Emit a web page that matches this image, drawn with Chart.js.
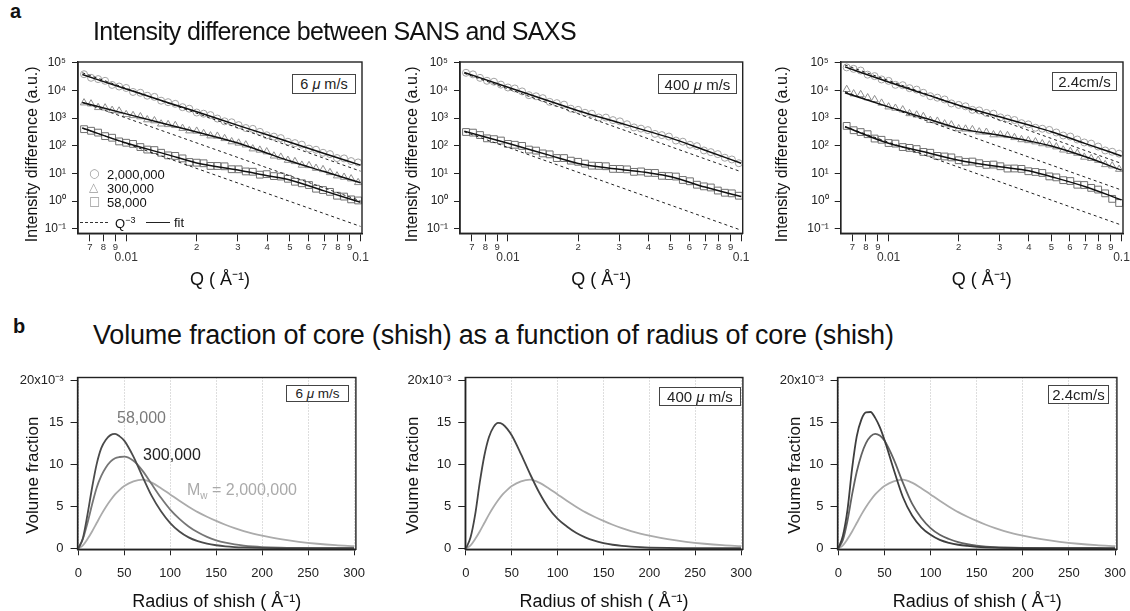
<!DOCTYPE html>
<html>
<head>
<meta charset="utf-8">
<script src="https://cdn.jsdelivr.net/npm/chart.js@4.4.1/dist/chart.umd.min.js"></script>
<style>
  html, body { margin: 0; padding: 0; background: #fff; overflow: hidden; }
  #fig { position: relative; width: 1130px; height: 611px; overflow: hidden; background: #fff;
         font-family: "Liberation Sans", Arial, sans-serif; color: #111; }
  #fig canvas { position: absolute; }
  .lbl { position: absolute; white-space: nowrap; line-height: 1; z-index: 2; }
  .speed { position: absolute; z-index: 2; border: 1px solid #444; background: #fff; box-sizing: border-box;
           display: flex; align-items: center; justify-content: center; white-space: nowrap; color: #222; }
  .sym { font-family: "DejaVu Sans", sans-serif; color: #999; }
  .dash { position: absolute; z-index: 2; height: 0; }
</style>
</head>
<body>
<div id="fig">
  <div class="lbl" style="left:10px;top:1px;font-size:20px;font-weight:bold">a</div>
  <div class="lbl" style="left:93px;top:19px;font-size:25px;letter-spacing:-0.6px">Intensity difference between SANS and SAXS</div>
  <div class="lbl" style="left:13px;top:316px;font-size:20px;font-weight:bold">b</div>
  <div class="lbl" style="left:93px;top:322px;font-size:27px;letter-spacing:-0.2px">Volume fraction of core (shish) as a function of radius of core (shish)</div>

  <div class="speed" style="left:292px;top:74px;width:64px;height:20px;font-size:14.5px">6&nbsp;<i>μ</i>&nbsp;m/s</div>
  <div class="speed" style="left:658px;top:74px;width:79px;height:20px;font-size:15px">400&nbsp;<i>μ</i>&nbsp;m/s</div>
  <div class="speed" style="left:1052px;top:72px;width:65px;height:19px;font-size:15px">2.4cm/s</div>
  <div class="speed" style="left:286px;top:385px;width:63px;height:17px;font-size:13.5px">6&nbsp;<i>μ</i>&nbsp;m/s</div>
  <div class="speed" style="left:659px;top:387px;width:82px;height:19px;font-size:15px">400&nbsp;<i>μ</i>&nbsp;m/s</div>
  <div class="speed" style="left:1048px;top:385px;width:61px;height:19px;font-size:15px">2.4cm/s</div>

  <div class="lbl sym" style="left:89px;top:167px;font-size:12px">○</div>
  <div class="lbl" style="left:107px;top:168px;font-size:13px">2,000,000</div>
  <div class="lbl sym" style="left:89px;top:181px;font-size:12px">△</div>
  <div class="lbl" style="left:107px;top:182px;font-size:13px">300,000</div>
  <div class="lbl sym" style="left:89px;top:195px;font-size:12px">□</div>
  <div class="lbl" style="left:107px;top:196px;font-size:13px">58,000</div>
  <div class="dash" style="left:80px;top:222px;width:28px;border-top:1px dashed #333"></div>
  <div class="lbl" style="left:115px;top:216px;font-size:13px">Q<sup style="font-size:9px">−3</sup></div>
  <div class="dash" style="left:146px;top:222px;width:24px;border-top:1.5px solid #222"></div>
  <div class="lbl" style="left:174px;top:216px;font-size:13px">fit</div>

  <div class="lbl" style="left:117px;top:410px;font-size:16px;color:#7a7a7a">58,000</div>
  <div class="lbl" style="left:143px;top:447px;font-size:16px;color:#222">300,000</div>
  <div class="lbl" style="left:187px;top:482px;font-size:16px;color:#aaa">M<sub style="font-size:10px">w</sub> = 2,000,000</div>
</div>
<script>
// ---- panel a: intensity difference, Q in 1/Å ----
const qData = [0.00661, 0.00708, 0.00759, 0.00813, 0.00871, 0.00933, 0.0100, 0.0107, 0.0115, 0.0123,
    0.0132, 0.0141, 0.0151, 0.0162, 0.0174, 0.0186, 0.0200, 0.0214, 0.0229, 0.0245,
    0.0263, 0.0282, 0.0302, 0.0324, 0.0347, 0.0372, 0.0398, 0.0427, 0.0457, 0.0490,
    0.0525, 0.0562, 0.0603, 0.0646, 0.0692, 0.0741, 0.0794, 0.0851, 0.0912, 0.0977];

// 6 um/s
const a1Circles = [39000, 29000, 26000, 22500, 16000, 14000, 12400, 8900, 8300, 6500,
    5900, 4300, 3800, 3300, 2500, 2200, 1600, 1450, 1290, 970,
    770, 710, 560, 440, 410, 320, 240, 215, 190, 140,
    125, 110, 79, 72, 56, 50, 36, 35, 28, 25];
const a1Triangles = [3600, 3300, 2440, 2360, 1930, 1820, 1360, 1250, 1130, 880,
    810, 620, 590, 545, 430, 350, 340, 280, 230, 224,
    184, 141, 126, 108, 78, 70, 61, 43, 39, 30,
    27, 20, 19.3, 15.4, 13.8, 10.8, 8.2, 7.3, 6.4, 4.7];
const a1Squares = [400, 350, 300, 224, 196, 144, 129, 117, 90, 73,
    70, 56, 45, 43, 35, 26, 24.5, 23.3, 18.7, 18.6,
    18.1, 14.2, 14.1, 11.8, 11.5, 9.0, 9.4, 8.0, 7.7, 6.4,
    5.0, 4.4, 3.8, 2.8, 2.5, 2.15, 1.56, 1.45, 1.15, 1.05];
// 400 um/s
const a2Circles = [44000, 38500, 28800, 22600, 20900, 16400, 12900, 11900, 9300, 6800,
    6200, 5300, 3890, 3500, 3090, 2210, 2000, 1570, 1450, 1060,
    1050, 850, 766, 603, 462, 418, 369, 270, 244, 216,
    155, 141, 109, 97, 68, 59, 50, 37, 32, 23.4];
const a2Squares = [316, 300, 245, 186, 174, 155, 117, 109, 99, 73,
    67, 53, 49, 36, 36, 29, 26.3, 22.6, 19.1, 18.8,
    18.2, 14.6, 14.5, 14.0, 11.4, 11.8, 10.5, 10.4, 8.2, 8.0,
    7.7, 5.8, 5.2, 3.9, 3.4, 3.1, 2.4, 2.0, 1.9, 1.56];
// 2.4 cm/s
const a3Circles = [69000, 61000, 53000, 37600, 33300, 25200, 22400, 16100, 15600, 12200,
    10800, 8300, 6250, 5520, 4760, 3420, 3020, 2690, 2000, 1910,
    1550, 1450, 1070, 968, 857, 659, 597, 449, 415, 376,
    303, 236, 216, 169, 132, 120, 94, 68, 61, 52];
const a3Triangles = [11000, 7640, 7190, 5500, 4710, 3520, 2570, 2300, 2010, 1470,
    1310, 1150, 836, 783, 625, 573, 417, 406, 386, 320,
    311, 252, 251, 236, 200, 168, 155, 140, 120, 108,
    92, 71, 63, 54, 39, 35, 30, 21, 18.8, 14.2];
const a3Squares = [525, 366, 314, 263, 183, 165, 126, 120, 90, 84,
    76, 60, 56, 43, 41, 38, 30, 26.3, 26.9, 23.4,
    20.4, 20.9, 18.2, 15.0, 15.1, 14.6, 12.0, 11.3, 10.4, 7.8,
    7.2, 5.7, 5.3, 3.9, 3.8, 3.0, 2.6, 1.9, 1.2, 0.85];

// fit curves
const qFit = [0.0065, 0.01, 0.015, 0.02, 0.03, 0.04, 0.05, 0.07, 0.1];
const a1CirclesFit = [38000, 11400, 3700, 1700, 550, 250, 135, 53, 20];
const a1TrianglesFit = [3700, 1430, 590, 316, 126, 54, 28, 11.7, 4.6];
const a1SquaresFit = [440, 126, 48, 24, 13.3, 8.3, 5.8, 2.34, 0.9];
const a2CirclesFit = [45000, 13200, 4180, 1860, 680, 333, 190, 69, 23.4];
const a2SquaresFit = [339, 123, 46, 23, 14.1, 10.5, 7.6, 3.2, 1.45];
const a3CirclesFit = [72000, 20400, 6560, 2950, 1120, 562, 324, 120, 43];
const a3TrianglesFit = [8300, 2570, 895, 427, 240, 150, 98, 40, 13.2];
const a3SquaresFit = [490, 123, 54, 30, 17.4, 12.6, 7.6, 3.3, 1.10];

// Q^-3 guide lines (end points)
const qPow = [0.0065, 0.1];
const a1CirclesPow = [44000, 12.1];
const a1TrianglesPow = [3700, 1.02];
const a1SquaresPow = [440, 0.121];
const a2CirclesPow = [42000, 11.5];
const a2SquaresPow = [320, 0.088];
const a3CirclesPow = [84000, 23];
const a3TrianglesPow = [9100, 2.5];
const a3SquaresPow = [490, 0.135];

const qTicks = [0.007, 0.008, 0.009, 0.01, 0.02, 0.03, 0.04, 0.05, 0.06, 0.07, 0.08, 0.09, 0.1];
const qTickLabels = ['7', '8', '9', '0.01', '2', '3', '4', '5', '6', '7', '8', '9', '0.1'];
const qTickMajor = [false, false, false, true, false, false, false, false, false, false, false, false, true];
const iTicks = [0.1, 1, 10, 100, 1000, 10000, 100000];
const iTickLabels = ['10⁻¹', '10⁰', '10¹', '10²', '10³', '10⁴', '10⁵'];

// ---- panel b: volume fraction (units of 1e-3) vs radius of shish ----
const radius = [0, 5, 10, 15, 20, 25, 30, 35, 40, 45, 50, 60, 70, 80, 90, 100,
    110, 120, 130, 140, 150, 160, 170, 180, 190, 200, 220, 240, 260, 280, 300];
const vf6um58k = [0, 1.2, 4.0, 7.2, 10.0, 11.9, 12.9, 13.45, 13.6, 13.3, 12.8, 10.9, 8.5, 6.2, 4.4, 3.0,
    2.0, 1.3, 0.85, 0.55, 0.36, 0.23, 0.15, 0.10, 0.07, 0.05, 0.025, 0.013, 0.007, 0.004, 0.002];
const vf6um300k = [0, 1.1, 3.0, 5.2, 7.2, 8.6, 9.6, 10.3, 10.7, 10.85, 10.9, 10.4, 9.2, 7.6, 6.0, 4.6,
    3.5, 2.6, 1.9, 1.35, 0.95, 0.66, 0.46, 0.32, 0.22, 0.15, 0.07, 0.035, 0.017, 0.009, 0.005];
const vf2M = [0, 0.35, 1.1, 2.0, 3.0, 4.0, 4.9, 5.7, 6.4, 6.95, 7.4, 7.95, 8.15, 7.8, 7.15, 6.4,
    5.65, 4.95, 4.3, 3.75, 3.25, 2.8, 2.4, 2.05, 1.75, 1.5, 1.08, 0.77, 0.54, 0.37, 0.25];
const vf400um58k = [0, 1.3, 4.0, 7.8, 11.0, 13.2, 14.4, 14.9, 14.75, 14.2, 13.4, 11.2, 8.8, 6.6, 4.8, 3.5,
    2.6, 1.85, 1.3, 0.9, 0.62, 0.42, 0.28, 0.19, 0.13, 0.09, 0.04, 0.02, 0.01, 0.005, 0.003];
const vf24cm58k = [0, 1.5, 4.6, 9.5, 13.3, 15.3, 16.15, 16.2, 15.5, 14.4, 12.9, 9.4, 6.1, 3.9, 2.5, 1.6,
    1.0, 0.65, 0.42, 0.28, 0.18, 0.12, 0.08, 0.055, 0.04, 0.03, 0.015, 0.008, 0.004, 0.002, 0.001];
const vf24cm300k = [0, 1.0, 3.3, 6.4, 9.1, 11.1, 12.5, 13.3, 13.6, 13.4, 12.8, 10.6, 7.8, 5.3, 3.6, 2.4,
    1.6, 1.1, 0.72, 0.48, 0.32, 0.21, 0.14, 0.095, 0.065, 0.045, 0.02, 0.01, 0.005, 0.003, 0.002];

const rTicks = [0, 50, 100, 150, 200, 250, 300];
const rTickLabels = ['0', '50', '100', '150', '200', '250', '300'];
const vfTicks = [0, 5, 10, 15, 20];
const vfTickLabels = ['0', '5', '10', '15', '20x10⁻³'];

Chart.defaults.font.family = '"Liberation Sans", Arial, sans-serif';
Chart.defaults.color = '#222';
Chart.defaults.animation = false;
Chart.defaults.plugins.legend.display = false;
Chart.defaults.plugins.tooltip.enabled = false;

const frame_plugin = {
    id: 'frame',
    afterDatasetsDraw(chart) {
        const a = chart.chartArea, ctx = chart.ctx;
        ctx.save();
        ctx.strokeStyle = '#222';
        ctx.lineWidth = 1.4;
        ctx.strokeRect(a.left, a.top, a.right - a.left, a.bottom - a.top);
        ctx.restore();
    }
};

const fig = document.getElementById('fig');

function make_chart(rect, area, scales, datasets) {
    const c = document.createElement('canvas');
    c.width = rect.w;
    c.height = rect.h;
    c.style.left = rect.x + 'px';
    c.style.top = rect.y + 'px';
    fig.insertBefore(c, fig.firstChild);
    new Chart(c.getContext('2d'), {
        type: 'scatter',
        data: { datasets: datasets },
        options: {
            responsive: false, devicePixelRatio: 1,
            layout: { padding: { left: 0, bottom: 0, top: area.t - rect.y, right: rect.x + rect.w - area.r } },
            scales: scales
        },
        plugins: [frame_plugin]
    });
}

function pts(xs, ys) {
    return xs.map((x, i) => ({ x: x, y: ys[i] }));
}

function markers(ys, style, radius, color) {
    return {
        data: pts(qData, ys), showLine: false, pointStyle: style, pointRadius: radius,
        pointBorderWidth: 1, borderColor: color, backgroundColor: 'rgba(0,0,0,0)',
        pointBackgroundColor: 'rgba(0,0,0,0)', pointBorderColor: color, order: 2
    };
}

function fit_line(ys) {
    return { data: pts(qFit, ys), showLine: true, pointRadius: 0, borderColor: '#111',
        borderWidth: 1.5, cubicInterpolationMode: 'monotone', order: 1 };
}

function pow_line(ys) {
    return { data: pts(qPow, ys), showLine: true, pointRadius: 0, borderColor: '#222',
        borderWidth: 1, borderDash: [3, 3], order: 1 };
}

function intensity_scales(rect, area, title_x) {
    const W = area.l - rect.x, H = rect.y + rect.h - area.b;
    return {
        x: {
            type: 'logarithmic', min: 0.00623, max: 0.1015,
            afterBuildTicks: s => { s.ticks = qTicks.map((v, i) => ({ value: v, major: qTickMajor[i] })); },
            afterFit: s => { s.height = H; },
            grid: { drawOnChartArea: false, tickLength: 8, tickColor: '#222' },
            border: { color: '#222', width: 1.4 },
            ticks: {
                autoSkip: false, maxRotation: 0, padding: 0, color: '#333',
                font: c => (c.tick && c.tick.major) ? { size: 12, lineHeight: 0.92 } : { size: 9.5 },
                callback: (v, i) => qTickMajor[i] ? ['', qTickLabels[i]] : qTickLabels[i]
            },
            title: { display: true, text: 'Q ( Å⁻¹)', color: '#111', font: { size: 18 },
                padding: { top: 0, bottom: 4.2 } }
        },
        y: {
            type: 'logarithmic', min: 0.068, max: 108000,
            afterBuildTicks: s => { s.ticks = iTicks.map(v => ({ value: v })); },
            afterFit: s => { s.width = W; },
            grid: { drawOnChartArea: false, tickLength: 6, tickColor: '#222' },
            border: { color: '#222', width: 1.4 },
            ticks: { padding: 6, color: '#222', font: { size: 12 }, callback: (v, i) => iTickLabels[i] },
            // trailing spaces push the rotated title a little down, as in the original
            title: { display: true, text: 'Intensity difference (a.u.)\u00a0\u00a0\u00a0', color: '#111', font: { size: 16 },
                padding: { top: title_x - rect.x - 9.6, bottom: 0 } }
        }
    };
}

function fraction_scales(rect, area, title_x) {
    const W = area.l - rect.x, H = rect.y + rect.h - area.b;
    return {
        x: {
            type: 'linear', min: -0.8, max: 302,
            afterBuildTicks: s => { s.ticks = rTicks.map(v => ({ value: v })); },
            afterFit: s => { s.height = H; },
            grid: { color: '#bdbdbd', lineWidth: 1, tickLength: 6, tickColor: '#222' },
            border: { color: '#222', width: 1.4, dash: [1, 2] },
            ticks: { autoSkip: false, maxRotation: 0, padding: 10, color: '#222', font: { size: 13 },
                callback: (v, i) => rTickLabels[i] },
            title: { display: true, text: 'Radius of shish ( Å⁻¹)', color: '#111', font: { size: 18 },
                padding: { top: 0, bottom: 6.7 } }
        },
        y: {
            type: 'linear', min: -0.12, max: 20.3,
            afterBuildTicks: s => { s.ticks = vfTicks.map(v => ({ value: v })); },
            afterFit: s => { s.width = W; },
            grid: { drawOnChartArea: false, tickLength: 7, tickColor: '#222' },
            border: { color: '#222', width: 1.4 },
            ticks: { padding: 7, color: '#222', font: { size: 13 }, callback: (v, i) => vfTickLabels[i] },
            title: { display: true, text: 'Volume fraction\u00a0\u00a0\u00a0\u00a0\u00a0', color: '#111', font: { size: 17 },
                padding: { top: title_x - rect.x - 10.2, bottom: 0 } }
        }
    };
}

function vf_line(ys, color) {
    return { data: pts(radius, ys), showLine: true, pointRadius: 0, borderColor: color,
        borderWidth: 1.8, cubicInterpolationMode: 'monotone' };
}

// row a
let r, ar;
r = { x: 20, y: 40, w: 356, h: 255 }; ar = { l: 78, r: 362, t: 62, b: 233.3 };
make_chart(r, ar, intensity_scales(r, ar, 33), [
    fit_line(a1CirclesFit), fit_line(a1TrianglesFit), fit_line(a1SquaresFit),
    pow_line(a1CirclesPow), pow_line(a1TrianglesPow), pow_line(a1SquaresPow),
    markers(a1Circles, 'circle', 3.5, '#a3a3a3'),
    markers(a1Triangles, 'triangle', 4.2, '#8e8e8e'),
    markers(a1Squares, 'rect', 4.8, '#707070')
]);
r = { x: 400, y: 40, w: 357, h: 255 }; ar = { l: 460, r: 742.7, t: 62, b: 233.3 };
make_chart(r, ar, intensity_scales(r, ar, 413), [
    fit_line(a2CirclesFit), fit_line(a2SquaresFit),
    pow_line(a2CirclesPow), pow_line(a2SquaresPow),
    markers(a2Circles, 'circle', 3.5, '#a3a3a3'),
    markers(a2Squares, 'rect', 4.8, '#707070')
]);
r = { x: 770, y: 40, w: 367, h: 255 }; ar = { l: 840.7, r: 1123, t: 62, b: 233.3 };
make_chart(r, ar, intensity_scales(r, ar, 783), [
    fit_line(a3CirclesFit), fit_line(a3TrianglesFit), fit_line(a3SquaresFit),
    pow_line(a3CirclesPow), pow_line(a3TrianglesPow), pow_line(a3SquaresPow),
    markers(a3Circles, 'circle', 3.5, '#a3a3a3'),
    markers(a3Triangles, 'triangle', 4.2, '#8e8e8e'),
    markers(a3Squares, 'rect', 4.8, '#707070')
]);

// row b
r = { x: 20, y: 355, w: 355, h: 265 }; ar = { l: 77.55, r: 360.2, t: 377.5, b: 549.3 };
make_chart(r, ar, fraction_scales(r, ar, 33.5), [
    vf_line(vf6um58k, '#4b4b4b'), vf_line(vf6um300k, '#767676'), vf_line(vf2M, '#ababab')
]);
r = { x: 400, y: 355, w: 362, h: 265 }; ar = { l: 465.25, r: 747.9, t: 377.5, b: 549.3 };
make_chart(r, ar, fraction_scales(r, ar, 413.3), [
    vf_line(vf400um58k, '#454545'), vf_line(vf2M, '#ababab')
]);
r = { x: 780, y: 355, w: 356, h: 265 }; ar = { l: 837.55, r: 1121.9, t: 377.5, b: 549.3 };
make_chart(r, ar, fraction_scales(r, ar, 795), [
    vf_line(vf24cm58k, '#3e3e3e'), vf_line(vf24cm300k, '#626262'), vf_line(vf2M, '#ababab')
]);
</script>
</body>
</html>
